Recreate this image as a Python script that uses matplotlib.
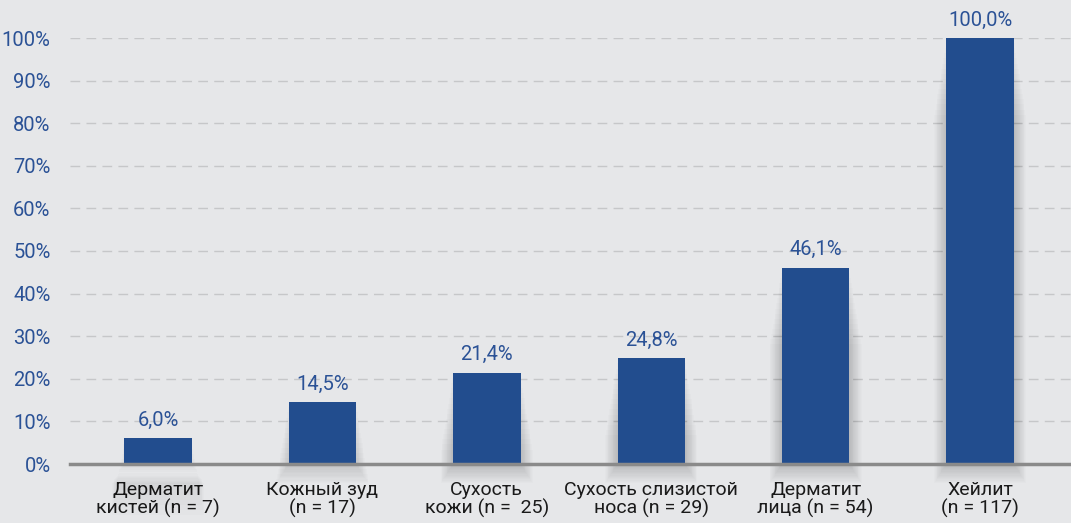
import matplotlib
matplotlib.use("Agg")
import matplotlib.pyplot as plt
from matplotlib import font_manager
import numpy as np

categories = ["Дерматит\nкистей (n = 7)", "Кожный зуд\n(n = 17)", "Сухость\nкожи (n =  25)",
              "Сухость слизистой\nноса (n = 29)", "Дерматит\nлица (n = 54)", "Хейлит\n(n = 117)"]
values = [6.0, 14.5, 21.4, 24.8, 46.1, 100.0]
value_labels = ["6,0%", "14,5%", "21,4%", "24,8%", "46,1%", "100,0%"]
yticks = [0, 10, 20, 30, 40, 50, 60, 70, 80, 90, 100]
ytick_labels = [f"{t}%" for t in yticks]

names = {f.name for f in font_manager.fontManager.ttflist}
fam = ["Liberation Sans Narrow", "DejaVu Sans"] if "Liberation Sans Narrow" in names else ["Roboto", "DejaVu Sans"]
plt.rcParams["font.family"] = fam

BG = "#e6e7e9"
BAR = "#224d8e"
BLUE = "#2b5296"

fig = plt.figure(figsize=(10.71, 5.23), dpi=100, facecolor=BG)
ax = fig.add_axes([70/1071, (523-464)/523, 1 - 70/1071, (464-38)/523])
ax.set_facecolor(BG)

x = np.arange(len(categories))
w = 0.41
vals = np.array(values)
# soft diffuse shadow
for k in range(1, 16):
    ax.bar(x, vals - 1.2 * k + 0.3 * k, width=w + 0.01 * k, bottom=-0.3 * k,
           color="black", alpha=0.010, zorder=1, linewidth=0, clip_on=False)
ax.bar(x, vals, width=w, color=BAR, zorder=3, linewidth=0)

for xi, v, lab in zip(x, vals, value_labels):
    ax.text(xi, v + 2.0, lab, ha="center", va="bottom", color=BLUE, fontsize=14.5, zorder=4)

ax.set_xlim(-0.535, 5.553)
ax.set_ylim(0, 100)
ax.set_yticks(yticks)
ax.set_yticklabels(ytick_labels, color=BLUE, fontsize=14.5)
ax.yaxis.grid(True, color="#c6c7c9", linestyle=(0, (7, 4.5)), linewidth=1.0, zorder=0)
ax.set_axisbelow(True)
ax.set_xticks(x)
ax.set_xticklabels(categories, fontsize=14, color="#1a1a1a", linespacing=1.0)
ax.tick_params(axis="both", length=0)
ax.tick_params(axis="x", pad=12)
ax.tick_params(axis="y", pad=14)
for s in ["top", "right", "left"]:
    ax.spines[s].set_visible(False)
ax.spines["bottom"].set_color("#8a8a8a")
ax.spines["bottom"].set_linewidth(2.5)
ax.spines["bottom"].set_zorder(5)

fig.savefig("out.png", dpi=100, facecolor=BG)
